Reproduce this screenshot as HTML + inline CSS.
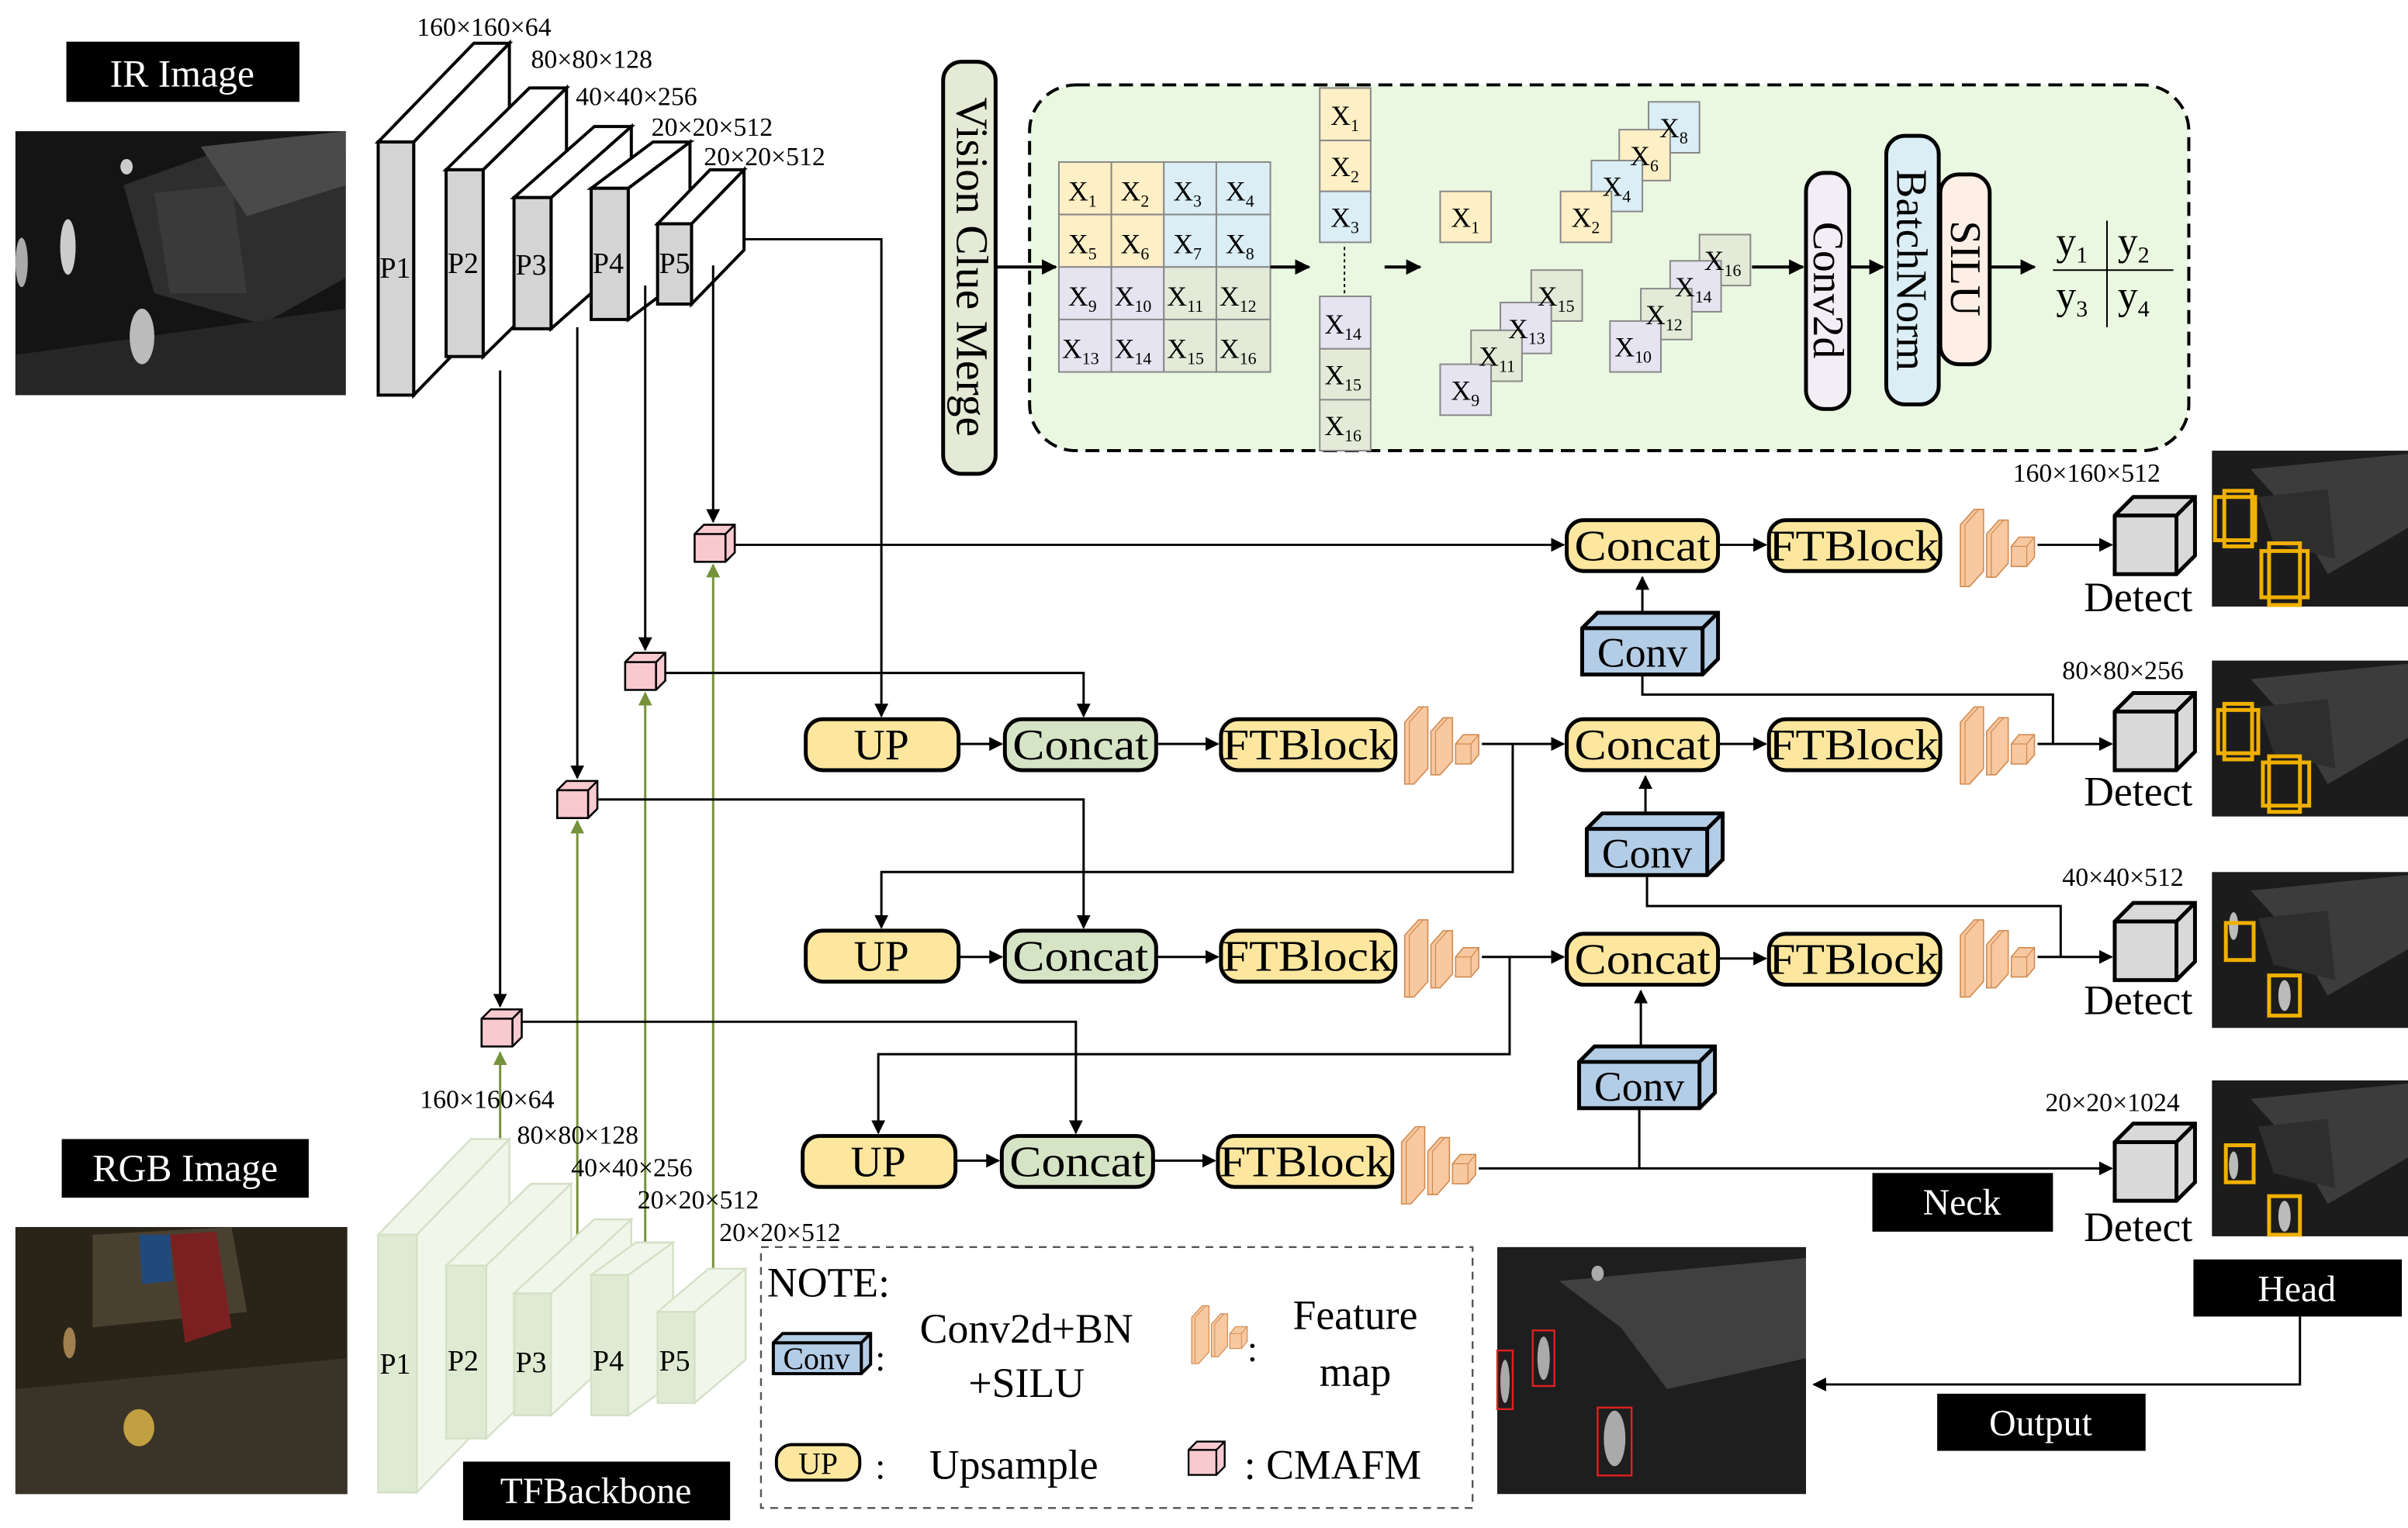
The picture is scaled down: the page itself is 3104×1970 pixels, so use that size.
<!DOCTYPE html>
<html><head><meta charset="utf-8">
<style>
html,body{margin:0;padding:0;background:#fff;}
svg{display:block;}
text{font-family:"Liberation Serif",serif;fill:#000;}
</style></head>
<body>
<svg width="3104" height="1970" viewBox="0 0 1560 990" preserveAspectRatio="none" xmlns="http://www.w3.org/2000/svg">
<defs>
<marker id="a" viewBox="0 0 10 10" refX="9" refY="5" markerWidth="6" markerHeight="6" orient="auto"><path d="M0,0 L10,5 L0,10 z" fill="#000"/></marker>
<marker id="ab" viewBox="0 0 10 10" refX="9" refY="5" markerWidth="5" markerHeight="5" orient="auto"><path d="M0,0 L10,5 L0,10 z" fill="#000"/></marker>
<marker id="ag" viewBox="0 0 10 10" refX="9" refY="5" markerWidth="6" markerHeight="6" orient="auto"><path d="M0,0 L10,5 L0,10 z" fill="#76923c"/></marker>
<g id="fm">
<path d="M0,50 L0,10 L9,0 L15,0 L15,40 L6,50 Z" fill="#f8c8a0" stroke="#d08a50" stroke-width="0.8"/>
<path d="M3,50 L3,10 L12,0" fill="none" stroke="#d08a50" stroke-width="0.6"/>
<path d="M17,44 L17,16 L25,7 L31,7 L31,35 L23,44 Z" fill="#f8c8a0" stroke="#d08a50" stroke-width="0.8"/>
<path d="M20,44 L20,16 L28,7" fill="none" stroke="#d08a50" stroke-width="0.6"/>
<path d="M33,37 L33,24 L38,18 L48,18 L48,31 L43,37 Z" fill="#f8c8a0" stroke="#d08a50" stroke-width="0.8"/>
<path d="M33,24 L43,24 L48,18 M43,24 L43,37" fill="none" stroke="#d08a50" stroke-width="0.6"/>
</g>
<g id="pink">
<path d="M0,6 L6,0 L26,0 L26,18 L20,24 L0,24 Z" fill="#f9c9d0" stroke="#000" stroke-width="1.3"/>
<path d="M0,6 L20,6 L26,0 M20,6 L20,24" fill="none" stroke="#000" stroke-width="1.3"/>
</g>
<g id="det">
<path d="M0,12 L12,0 L52,0 L52,38 L40,50 L0,50 Z" fill="#d9d9d9" stroke="#000" stroke-width="2.5"/>
<path d="M0,12 L40,12 L52,0 M40,12 L40,50" fill="none" stroke="#000" stroke-width="2.5"/>
</g>
<g id="conv">
<path d="M0,10 L10,0 L88,0 L88,30 L78,40 L0,40 Z" fill="#b4cde6" stroke="#000" stroke-width="2.5"/>
<path d="M0,10 L78,10 L88,0 M78,10 L78,40" fill="none" stroke="#000" stroke-width="2.5"/>
</g>
<g id="ir">
<rect x="0" y="0" width="127" height="101" fill="#1c1c1c"/>
<path d="M25,12 L127,2 L127,50 L75,80 L55,45 Z" fill="#3c3c3c"/>
<path d="M30,30 L75,25 L80,70 L40,60 Z" fill="#2e2e2e"/>
</g>
</defs>

<!-- IR -->
<rect x="43" y="27" width="151" height="39" fill="#000"/>
<text x="118" y="56" font-size="25" text-anchor="middle" style="fill:#fff">IR Image</text>
<rect x="10" y="85" width="214" height="171" fill="#141414"/>
<path d="M80,120 L150,95 L224,100 L224,180 L170,210 L100,190 Z" fill="#2e2e2e"/>
<path d="M100,125 L150,120 L160,190 L110,190 Z" fill="#3a3a3a"/>
<path d="M130,95 L224,85 L224,120 L160,140 Z" fill="#4a4a4a"/>
<path d="M10,230 L224,200 L224,256 L10,256 Z" fill="#262626"/>
<ellipse cx="92" cy="218" rx="8" ry="18" fill="#bbb"/><ellipse cx="44" cy="160" rx="5" ry="18" fill="#ccc"/><ellipse cx="14" cy="170" rx="4" ry="16" fill="#aaa"/><ellipse cx="82" cy="108" rx="4" ry="5" fill="#ccc"/>

<!-- IR backbone -->
<g stroke="#000" stroke-width="2" fill="#fff">
<path d="M268,92 L330,28 L330,192 L268,256 Z"/><path d="M245,92 L307,28 L330,28 L268,92 Z"/><rect x="245" y="92" width="23" height="164" fill="#d4d4d4"/>
<path d="M313,110 L367,57 L367,178 L313,231 Z"/><path d="M289,110 L343,57 L367,57 L313,110 Z"/><rect x="289" y="110" width="24" height="121" fill="#d4d4d4"/>
<path d="M357,128 L409,82 L409,167 L357,213 Z"/><path d="M333,128 L385,82 L409,82 L357,128 Z"/><rect x="333" y="128" width="24" height="85" fill="#d4d4d4"/>
<path d="M407,122 L447,92 L447,177 L407,207 Z"/><path d="M383,122 L423,92 L447,92 L407,122 Z"/><rect x="383" y="122" width="24" height="85" fill="#d4d4d4"/>
<path d="M448,145 L482,110 L482,162 L448,197 Z"/><path d="M426,145 L460,110 L482,110 L448,145 Z"/><rect x="426" y="145" width="22" height="52" fill="#d4d4d4"/>
</g>
<g font-size="19"><text x="246" y="180">P1</text><text x="290" y="177">P2</text><text x="334" y="178">P3</text><text x="384" y="177">P4</text><text x="427" y="177">P5</text></g>
<g font-size="17"><text x="270" y="23">160×160×64</text><text x="344" y="44">80×80×128</text><text x="373" y="68">40×40×256</text><text x="422" y="88">20×20×512</text><text x="456" y="107">20×20×512</text></g>

<!-- IR to cubes -->
<g stroke="#000" stroke-width="1.5" fill="none">
<path d="M482,155 L571,155 L571,464" marker-end="url(#a)"/>
<path d="M462,172 L462,338" marker-end="url(#a)"/>
<path d="M418,185 L418,421" marker-end="url(#a)"/>
<path d="M374,212 L374,504" marker-end="url(#a)"/>
<path d="M324,240 L324,652" marker-end="url(#a)"/>
</g>
<!-- green -->
<g stroke="#76923c" stroke-width="1.5" fill="none">
<path d="M462,832 L462,366" marker-end="url(#ag)"/>
<path d="M418,822 L418,449" marker-end="url(#ag)"/>
<path d="M374,812 L374,532" marker-end="url(#ag)"/>
<path d="M324,800 L324,682" marker-end="url(#ag)"/>
</g>
<use href="#pink" x="450" y="340"/><use href="#pink" x="405" y="423"/><use href="#pink" x="361" y="506"/><use href="#pink" x="312" y="654"/>

<!-- connectors -->
<g stroke="#000" stroke-width="1.5" fill="none">
<path d="M476,353 L1013,353" marker-end="url(#a)"/>
<path d="M431,436 L702,436 L702,464" marker-end="url(#a)"/>
<path d="M387,518 L702,518 L702,601" marker-end="url(#a)"/>
<path d="M338,662 L697,662 L697,734" marker-end="url(#a)"/>
<path d="M960,482 L1013,482" marker-end="url(#a)"/>
<path d="M980,482 L980,565 L571,565 L571,601" marker-end="url(#a)"/>
<path d="M960,620 L1013,620" marker-end="url(#a)"/>
<path d="M978,620 L978,683 L569,683 L569,734" marker-end="url(#a)"/>
<path d="M958,757 L1368,757" marker-end="url(#a)"/>
<path d="M1062,757 L1062,718"/>
<path d="M1320,353 L1368,353" marker-end="url(#a)"/>
<path d="M1320,482 L1368,482" marker-end="url(#a)"/>
<path d="M1320,620 L1368,620" marker-end="url(#a)"/>
<path d="M1064,437 L1064,450 L1330,450 L1330,482"/>
<path d="M1067,567 L1067,587 L1335,587 L1335,620"/>
<path d="M1064,398 L1064,374" marker-end="url(#a)"/>
<path d="M1066,527 L1066,503" marker-end="url(#a)"/>
<path d="M1063,678 L1063,642" marker-end="url(#a)"/>
<path d="M621,482 L649,482" marker-end="url(#a)"/>
<path d="M749,482 L789,482" marker-end="url(#a)"/>
<path d="M621,620 L649,620" marker-end="url(#a)"/>
<path d="M749,620 L789,620" marker-end="url(#a)"/>
<path d="M619,752 L647,752" marker-end="url(#a)"/>
<path d="M747,752 L787,752" marker-end="url(#a)"/>
<path d="M1113,353 L1144,353" marker-end="url(#a)"/>
<path d="M1113,482 L1144,482" marker-end="url(#a)"/>
<path d="M1113,621 L1144,621" marker-end="url(#a)"/>
<path d="M1490,853 L1490,897 L1175,897" marker-end="url(#a)"/>
</g>

<!-- pills -->
<g stroke="#000" stroke-width="2.5">
<rect x="522" y="466" width="99" height="33" rx="11" fill="#fde79f"/>
<rect x="651" y="466" width="98" height="33" rx="11" fill="#d6e4c6"/>
<rect x="791" y="466" width="113" height="33" rx="11" fill="#fde79f"/>
<rect x="1015" y="337" width="98" height="33" rx="11" fill="#fde79f"/>
<rect x="1146" y="337" width="111" height="33" rx="11" fill="#fde79f"/>
<rect x="1015" y="466" width="98" height="33" rx="11" fill="#fde79f"/>
<rect x="1146" y="466" width="111" height="33" rx="11" fill="#fde79f"/>
<rect x="522" y="603" width="99" height="33" rx="11" fill="#fde79f"/>
<rect x="651" y="603" width="98" height="33" rx="11" fill="#d6e4c6"/>
<rect x="791" y="603" width="113" height="33" rx="11" fill="#fde79f"/>
<rect x="1015" y="605" width="98" height="33" rx="11" fill="#fde79f"/>
<rect x="1146" y="605" width="111" height="33" rx="11" fill="#fde79f"/>
<rect x="520" y="736" width="99" height="33" rx="11" fill="#fde79f"/>
<rect x="649" y="736" width="98" height="33" rx="11" fill="#d6e4c6"/>
<rect x="789" y="736" width="113" height="33" rx="11" fill="#fde79f"/>
</g>
<g font-size="28" text-anchor="middle">
<text x="571" y="492">UP</text><text x="700" y="492" textLength="88" lengthAdjust="spacingAndGlyphs">Concat</text><text x="847" y="492" textLength="110" lengthAdjust="spacingAndGlyphs">FTBlock</text>
<text x="1064" y="363" textLength="88" lengthAdjust="spacingAndGlyphs">Concat</text><text x="1201" y="363" textLength="110" lengthAdjust="spacingAndGlyphs">FTBlock</text>
<text x="1064" y="492" textLength="88" lengthAdjust="spacingAndGlyphs">Concat</text><text x="1201" y="492" textLength="110" lengthAdjust="spacingAndGlyphs">FTBlock</text>
<text x="571" y="629">UP</text><text x="700" y="629" textLength="88" lengthAdjust="spacingAndGlyphs">Concat</text><text x="847" y="629" textLength="110" lengthAdjust="spacingAndGlyphs">FTBlock</text>
<text x="1064" y="631" textLength="88" lengthAdjust="spacingAndGlyphs">Concat</text><text x="1201" y="631" textLength="110" lengthAdjust="spacingAndGlyphs">FTBlock</text>
<text x="569" y="762">UP</text><text x="698" y="762" textLength="88" lengthAdjust="spacingAndGlyphs">Concat</text><text x="845" y="762" textLength="110" lengthAdjust="spacingAndGlyphs">FTBlock</text>
</g>
<!-- feature maps -->
<use href="#fm" x="910" y="458"/><use href="#fm" x="910" y="596"/><use href="#fm" x="908" y="730"/>
<use href="#fm" x="1270" y="330"/><use href="#fm" x="1270" y="458"/><use href="#fm" x="1270" y="596"/>
<!-- convs -->
<use href="#conv" x="1025" y="397"/><use href="#conv" x="1028" y="527"/><use href="#conv" x="1023" y="678"/>
<g font-size="27" text-anchor="middle"><text x="1064" y="432">Conv</text><text x="1067" y="562">Conv</text><text x="1062" y="713">Conv</text></g>
<!-- detect -->
<use href="#det" x="1370" y="322"/><use href="#det" x="1370" y="449"/><use href="#det" x="1370" y="585"/><use href="#det" x="1370" y="728"/>
<g font-size="27"><text x="1350" y="396">Detect</text><text x="1350" y="522">Detect</text><text x="1350" y="657">Detect</text><text x="1350" y="804">Detect</text></g>
<g font-size="17"><text x="1304" y="312">160×160×512</text><text x="1336" y="440">80×80×256</text><text x="1336" y="574">40×40×512</text><text x="1325" y="720">20×20×1024</text></g>
<!-- detection images -->
<use href="#ir" x="1433" y="292"/><use href="#ir" x="1433" y="428"/><use href="#ir" x="1433" y="565"/><use href="#ir" x="1433" y="700"/>
<g fill="#bbb"><ellipse cx="1447" cy="600" rx="3" ry="9"/><ellipse cx="1480" cy="645" rx="4" ry="10"/><ellipse cx="1447" cy="755" rx="3" ry="9"/><ellipse cx="1480" cy="788" rx="4" ry="10"/></g>
<g fill="none" stroke="#f0b000" stroke-width="2.5">
<rect x="1435" y="322" width="26" height="28"/><rect x="1441" y="318" width="18" height="36"/>
<rect x="1465" y="357" width="30" height="30"/><rect x="1470" y="352" width="20" height="40"/>
<rect x="1437" y="460" width="26" height="28"/><rect x="1441" y="456" width="18" height="36"/>
<rect x="1466" y="494" width="30" height="28"/><rect x="1470" y="490" width="20" height="36"/>
<rect x="1442" y="598" width="18" height="24"/><rect x="1470" y="632" width="20" height="26"/>
<rect x="1442" y="742" width="18" height="24"/><rect x="1470" y="775" width="20" height="25"/>
</g>
<!-- labels -->
<rect x="1213" y="760" width="117" height="38" fill="#000"/><text x="1271" y="787" font-size="24" text-anchor="middle" style="fill:#fff">Neck</text>
<rect x="1421" y="816" width="135" height="37" fill="#000"/><text x="1488" y="843" font-size="24" text-anchor="middle" style="fill:#fff">Head</text>
<rect x="1255" y="903" width="135" height="37" fill="#000"/><text x="1322" y="930" font-size="24" text-anchor="middle" style="fill:#fff">Output</text>
<!-- output image -->
<rect x="970" y="808" width="200" height="160" fill="#1e1e1e"/>
<path d="M1010,830 L1170,815 L1170,880 L1080,900 L1050,860 Z" fill="#404040"/>
<g fill="#aaa"><ellipse cx="1000" cy="880" rx="4" ry="14"/><ellipse cx="975" cy="895" rx="3" ry="14"/><ellipse cx="1046" cy="932" rx="7" ry="18"/><ellipse cx="1035" cy="825" rx="4" ry="5"/></g>
<g fill="none" stroke="#e02020" stroke-width="1.2"><rect x="993" y="862" width="14" height="36"/><rect x="970" y="875" width="10" height="38"/><rect x="1035" y="912" width="22" height="44"/></g>

<!-- Vision clue merge -->
<rect x="611" y="40" width="34" height="267" rx="12" fill="#e4ead6" stroke="#000" stroke-width="2.5"/>
<text transform="translate(620,173) rotate(90)" font-size="29" text-anchor="middle">Vision Clue Merge</text>
<rect x="667" y="55" width="751" height="237" rx="30" fill="#eaf8e2" stroke="#000" stroke-width="2" stroke-dasharray="9,5"/>
<path d="M645,173 L684,173" stroke="#000" stroke-width="2" marker-end="url(#ab)"/>
<g stroke="#888" stroke-width="1">
<rect x="686" y="105" width="34" height="34" fill="#fdefc6"/><rect x="720" y="105" width="34" height="34" fill="#fdefc6"/><rect x="754" y="105" width="34" height="34" fill="#dbeef5"/><rect x="788" y="105" width="35" height="34" fill="#dbeef5"/>
<rect x="686" y="139" width="34" height="34" fill="#fdefc6"/><rect x="720" y="139" width="34" height="34" fill="#fdefc6"/><rect x="754" y="139" width="34" height="34" fill="#dbeef5"/><rect x="788" y="139" width="35" height="34" fill="#dbeef5"/>
<rect x="686" y="173" width="34" height="34" fill="#e6e4f0"/><rect x="720" y="173" width="34" height="34" fill="#e6e4f0"/><rect x="754" y="173" width="34" height="34" fill="#e4ead8"/><rect x="788" y="173" width="35" height="34" fill="#e4ead8"/>
<rect x="686" y="207" width="34" height="34" fill="#e6e4f0"/><rect x="720" y="207" width="34" height="34" fill="#e6e4f0"/><rect x="754" y="207" width="34" height="34" fill="#e4ead8"/><rect x="788" y="207" width="35" height="34" fill="#e4ead8"/>
<rect x="855" y="57" width="33" height="34" fill="#fdefc6"/><rect x="855" y="91" width="33" height="33" fill="#fdefc6"/><rect x="855" y="124" width="33" height="33" fill="#dbeef5"/>
<rect x="855" y="192" width="33" height="34" fill="#e6e4f0"/><rect x="855" y="226" width="33" height="33" fill="#e4ead8"/><rect x="855" y="259" width="33" height="33" fill="#e4ead8"/>
<rect x="933" y="124" width="33" height="33" fill="#fdefc6"/>
<rect x="1068" y="66" width="33" height="33" fill="#dbeef5"/><rect x="1049" y="84" width="33" height="33" fill="#fdefc6"/><rect x="1031" y="104" width="33" height="33" fill="#dbeef5"/><rect x="1011" y="124" width="33" height="33" fill="#fdefc6"/>
<rect x="992" y="175" width="33" height="33" fill="#e4ead8"/><rect x="972" y="196" width="33" height="33" fill="#e6e4f0"/><rect x="953" y="214" width="33" height="33" fill="#e4ead8"/><rect x="933" y="236" width="33" height="33" fill="#e6e4f0"/>
<rect x="1101" y="152" width="33" height="33" fill="#e4ead8"/><rect x="1082" y="169" width="33" height="33" fill="#e6e4f0"/><rect x="1063" y="187" width="33" height="33" fill="#e4ead8"/><rect x="1043" y="208" width="33" height="33" fill="#e6e4f0"/>
</g>
<path d="M871,160 L871,190" stroke="#000" stroke-width="1" stroke-dasharray="2,2"/>
<g font-size="18">
<text x="692" y="130">X<tspan font-size="11" dy="4">1</tspan></text><text x="726" y="130">X<tspan font-size="11" dy="4">2</tspan></text><text x="760" y="130">X<tspan font-size="11" dy="4">3</tspan></text><text x="794" y="130">X<tspan font-size="11" dy="4">4</tspan></text>
<text x="692" y="164">X<tspan font-size="11" dy="4">5</tspan></text><text x="726" y="164">X<tspan font-size="11" dy="4">6</tspan></text><text x="760" y="164">X<tspan font-size="11" dy="4">7</tspan></text><text x="794" y="164">X<tspan font-size="11" dy="4">8</tspan></text>
<text x="692" y="198">X<tspan font-size="11" dy="4">9</tspan></text><text x="722" y="198">X<tspan font-size="11" dy="4">10</tspan></text><text x="756" y="198">X<tspan font-size="11" dy="4">11</tspan></text><text x="790" y="198">X<tspan font-size="11" dy="4">12</tspan></text>
<text x="688" y="232">X<tspan font-size="11" dy="4">13</tspan></text><text x="722" y="232">X<tspan font-size="11" dy="4">14</tspan></text><text x="756" y="232">X<tspan font-size="11" dy="4">15</tspan></text><text x="790" y="232">X<tspan font-size="11" dy="4">16</tspan></text>
<text x="862" y="81">X<tspan font-size="11" dy="4">1</tspan></text><text x="862" y="114">X<tspan font-size="11" dy="4">2</tspan></text><text x="862" y="147">X<tspan font-size="11" dy="4">3</tspan></text>
<text x="858" y="216">X<tspan font-size="11" dy="4">14</tspan></text><text x="858" y="249">X<tspan font-size="11" dy="4">15</tspan></text><text x="858" y="282">X<tspan font-size="11" dy="4">16</tspan></text>
<text x="940" y="147">X<tspan font-size="11" dy="4">1</tspan></text><text x="1018" y="147">X<tspan font-size="11" dy="4">2</tspan></text>
<text x="1038" y="127">X<tspan font-size="11" dy="4">4</tspan></text><text x="1056" y="107">X<tspan font-size="11" dy="4">6</tspan></text><text x="1075" y="89">X<tspan font-size="11" dy="4">8</tspan></text>
<text x="940" y="259">X<tspan font-size="11" dy="4">9</tspan></text><text x="958" y="237">X<tspan font-size="11" dy="4">11</tspan></text><text x="977" y="219">X<tspan font-size="11" dy="4">13</tspan></text><text x="996" y="198">X<tspan font-size="11" dy="4">15</tspan></text>
<text x="1046" y="231">X<tspan font-size="11" dy="4">10</tspan></text><text x="1066" y="210">X<tspan font-size="11" dy="4">12</tspan></text><text x="1085" y="192">X<tspan font-size="11" dy="4">14</tspan></text><text x="1104" y="175">X<tspan font-size="11" dy="4">16</tspan></text>
</g>
<g stroke="#000" stroke-width="2" fill="none">
<path d="M823,173 L848,173" marker-end="url(#ab)"/>
<path d="M897,173 L920,173" marker-end="url(#ab)"/>
<path d="M1135,173 L1168,173" marker-end="url(#ab)"/>
<path d="M1198,173 L1220,173" marker-end="url(#ab)"/>
<path d="M1289,173 L1318,173" marker-end="url(#ab)"/>
</g>
<rect x="1170" y="112" width="28" height="153" rx="12" fill="#f3eef5" stroke="#000" stroke-width="2.5"/>
<rect x="1222" y="88" width="34" height="174" rx="12" fill="#dbeef5" stroke="#000" stroke-width="2.5"/>
<rect x="1257" y="113" width="32" height="123" rx="12" fill="#fdeee6" stroke="#000" stroke-width="2.5"/>
<g font-size="28" text-anchor="middle">
<text transform="translate(1175,188) rotate(90)">Conv2d</text>
<text transform="translate(1229,175) rotate(90)">BatchNorm</text>
<text transform="translate(1264,174) rotate(90)">SILU</text>
</g>
<path d="M1330,175 L1408,175 M1365,143 L1365,212" stroke="#000" stroke-width="1"/>
<g font-size="26"><text x="1332" y="165">y<tspan font-size="15" dy="5">1</tspan></text><text x="1372" y="165">y<tspan font-size="15" dy="5">2</tspan></text><text x="1332" y="200">y<tspan font-size="15" dy="5">3</tspan></text><text x="1372" y="200">y<tspan font-size="15" dy="5">4</tspan></text></g>

<!-- RGB -->
<rect x="40" y="738" width="160" height="38" fill="#000"/>
<text x="120" y="765" font-size="25" text-anchor="middle" style="fill:#fff">RGB Image</text>
<rect x="10" y="795" width="215" height="173" fill="#2a2418"/>
<path d="M60,800 L150,795 L160,850 L60,860 Z" fill="#4a4030"/>
<path d="M110,800 L140,798 L150,860 L120,870 Z" fill="#7a2020"/>
<path d="M90,800 L110,800 L112,830 L92,832 Z" fill="#204a7a"/>
<path d="M10,900 L225,880 L225,968 L10,968 Z" fill="#3a3428"/>
<ellipse cx="90" cy="925" rx="10" ry="12" fill="#c0a040"/>
<ellipse cx="45" cy="870" rx="4" ry="10" fill="#a08050"/>

<!-- RGB backbone -->
<g stroke="#d4e0c6" stroke-width="1.2" fill="#f1f6ea">
<path d="M270,800 L330,738 L330,905 L270,967 Z"/><path d="M245,800 L305,738 L330,738 L270,800 Z"/><rect x="245" y="800" width="25" height="167" fill="#dfead2"/>
<path d="M315,820 L370,767 L370,879 L315,932 Z"/><path d="M289,820 L344,767 L370,767 L315,820 Z"/><rect x="289" y="820" width="26" height="112" fill="#dfead2"/>
<path d="M357,838 L409,790 L409,869 L357,917 Z"/><path d="M333,838 L385,790 L409,790 L357,838 Z"/><rect x="333" y="838" width="24" height="79" fill="#dfead2"/>
<path d="M407,826 L436,805 L436,896 L407,917 Z"/><path d="M383,826 L412,805 L436,805 L407,826 Z"/><rect x="383" y="826" width="24" height="91" fill="#dfead2"/>
<path d="M450,850 L483,822 L483,881 L450,909 Z"/><path d="M426,850 L459,822 L483,822 L450,850 Z"/><rect x="426" y="850" width="24" height="59" fill="#dfead2"/>
</g>
<g font-size="19"><text x="246" y="890">P1</text><text x="290" y="888">P2</text><text x="334" y="889">P3</text><text x="384" y="888">P4</text><text x="427" y="888">P5</text></g>
<g font-size="17"><text x="272" y="718">160×160×64</text><text x="335" y="741">80×80×128</text><text x="370" y="762">40×40×256</text><text x="413" y="783">20×20×512</text><text x="466" y="804">20×20×512</text></g>
<rect x="300" y="947" width="173" height="38" fill="#000"/><text x="386" y="974" font-size="24" text-anchor="middle" style="fill:#fff">TFBackbone</text>

<!-- NOTE -->
<rect x="493" y="808" width="461" height="169" fill="none" stroke="#555" stroke-width="1.2" stroke-dasharray="5,4"/>
<text x="497" y="840" font-size="27">NOTE:</text>
<path d="M501,870 L507,864 L564,864 L564,884 L558,890 L501,890 Z" fill="#b4cde6" stroke="#000" stroke-width="2"/>
<path d="M501,870 L558,870 L564,864 M558,870 L558,890" fill="none" stroke="#000" stroke-width="2"/>
<text x="529" y="887" font-size="20" text-anchor="middle">Conv</text>
<text x="567" y="888" font-size="24">:</text>
<text x="665" y="870" font-size="27" text-anchor="middle">Conv2d+BN</text>
<text x="665" y="905" font-size="27" text-anchor="middle">+SILU</text>
<g transform="translate(772,846) scale(0.75)"><use href="#fm"/></g>
<text x="808" y="882" font-size="24">:</text>
<text x="878" y="861" font-size="27" text-anchor="middle">Feature</text>
<text x="878" y="898" font-size="27" text-anchor="middle">map</text>
<rect x="503" y="936" width="54" height="23" rx="10" fill="#fde79f" stroke="#000" stroke-width="2"/>
<text x="530" y="955" font-size="20" text-anchor="middle">UP</text>
<text x="567" y="958" font-size="24">:</text>
<text x="602" y="958" font-size="27">Upsample</text>
<g transform="translate(770,934) scale(0.9)"><use href="#pink"/></g>
<text x="806" y="958" font-size="27">: CMAFM</text>
</svg>
</body></html>
